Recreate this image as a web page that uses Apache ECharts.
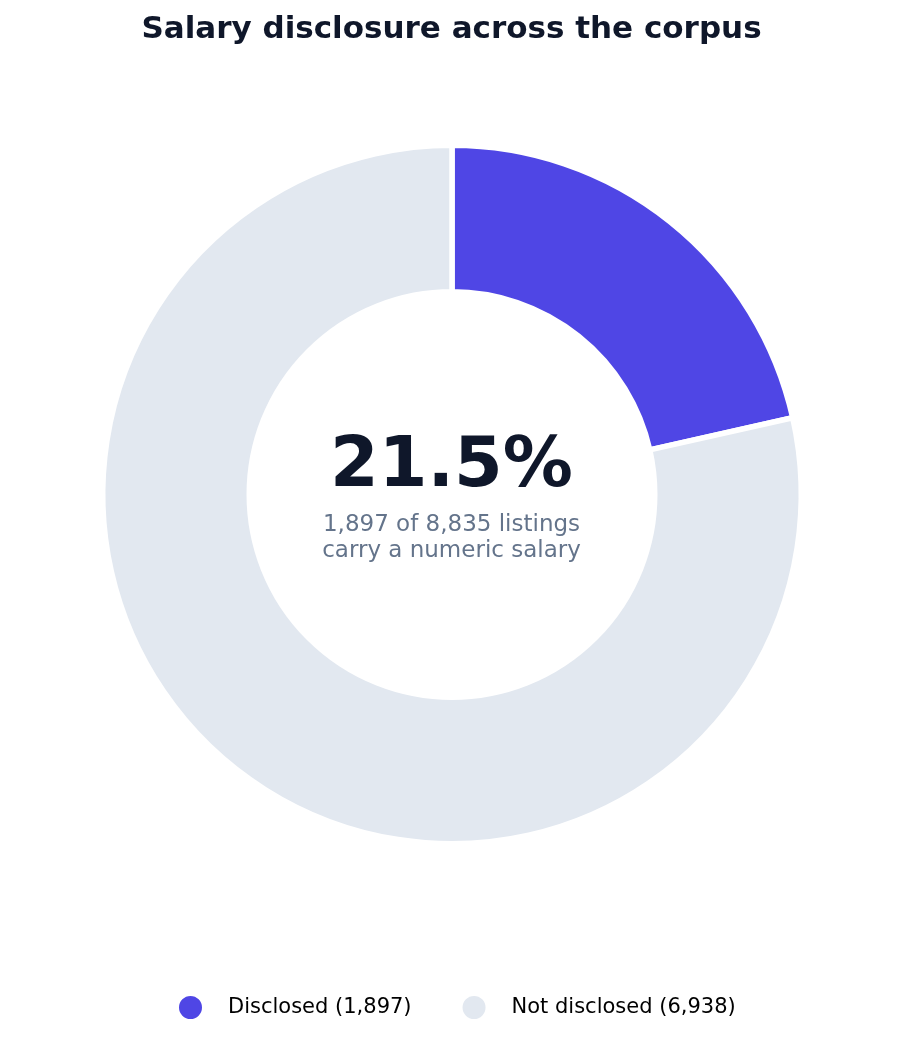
<!DOCTYPE html>
<html><head><meta charset="utf-8">
<script src="https://cdn.jsdelivr.net/npm/echarts@6/dist/echarts.min.js"></script>
<style>html,body{margin:0;padding:0;background:#fff}#c{width:903px;height:1041px}</style>
</head><body><div id="c"></div>
<script>
const categories = ['Disclosed', 'Not disclosed'];
const values = [1897, 6938];
const colors = ['#4f46e5', '#e2e8f0'];
const total = values.reduce((a, b) => a + b, 0);
const pct = (values[0] / total * 100).toFixed(1) + '%';
const fmt = n => n.toLocaleString('en-US');

const chart = echarts.init(document.getElementById('c'));
chart.setOption({
  animation: false,
  title: {
    text: 'Salary disclosure across the corpus',
    left: 'center', top: 9,
    textStyle: {fontFamily: 'DejaVu Sans', fontWeight: 'bold', fontSize: 31, color: '#0f172a'}
  },
  legend: {
    bottom: 15, left: 172,
    icon: 'circle', itemWidth: 25, itemHeight: 25, itemGap: 49,
    textStyle: {fontFamily: 'DejaVu Sans', fontSize: 21, color: '#000', padding: [0, 0, 0, 20]},
    data: categories,
    formatter: name => name + ' (' + fmt(values[categories.indexOf(name)]) + ')'
  },
  graphic: [{
    type: 'text', left: 'center', top: 433,
    style: {text: pct, font: 'bold 70px "DejaVu Sans"', fill: '#0f172a', textAlign: 'center'}
  }, {
    type: 'text', left: 'center', top: 512,
    style: {text: fmt(values[0]) + ' of ' + fmt(total) + ' listings\ncarry a numeric salary',
      font: '23px "DejaVu Sans"', fill: '#64748b', textAlign: 'center', lineHeight: 26}
  }],
  series: [{
    type: 'pie',
    center: [452, 494.5],
    radius: [202.75, 349.25],
    startAngle: 90,
    clockwise: true,
    label: {show: false},
    labelLine: {show: false},
    emphasis: {disabled: true},
    itemStyle: {borderColor: '#fff', borderWidth: 5.5},
    data: categories.map((c, i) => ({name: c, value: values[i], itemStyle: {color: colors[i]}}))
  }]
});
</script></body></html>
